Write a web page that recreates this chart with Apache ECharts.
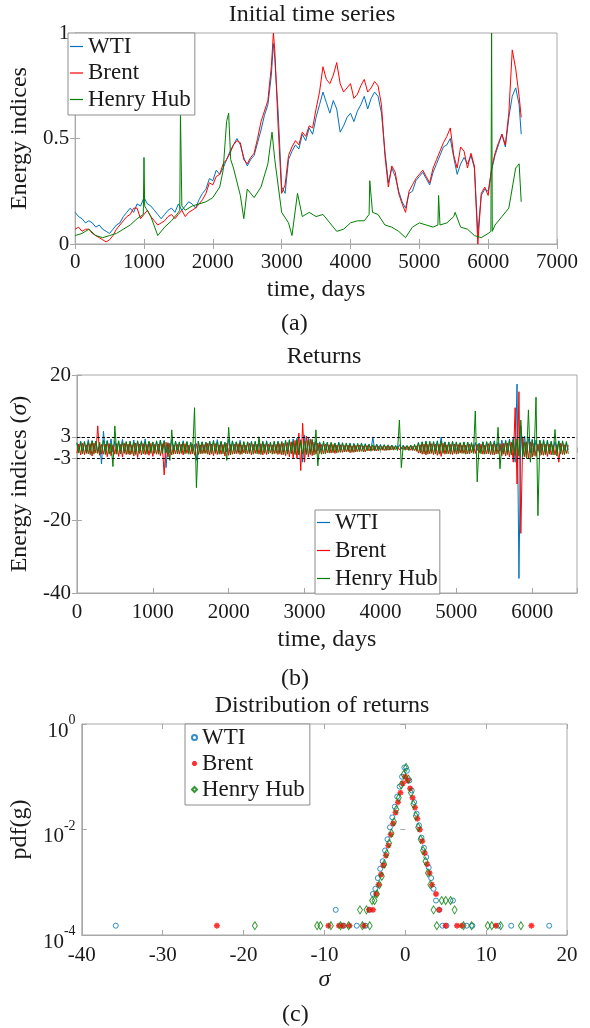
<!DOCTYPE html>
<html>
<head>
<meta charset="utf-8">
<script src="https://cdn.jsdelivr.net/npm/echarts@6/dist/echarts.min.js"></script>
<style>
  html, body { margin: 0; padding: 0; background: #fff; }
  #chart { width: 590px; height: 1028px; }
</style>
</head>
<body>
<div id="chart"></div>
<script>
// ---- panel (a): initial time series (normalised prices) ----
var daysA = [0, 50, 100, 150, 200, 250, 300, 350, 400, 450, 500, 550, 600, 650, 700, 750, 800, 850, 900, 950,
  1000, 1050, 1100, 1150, 1200, 1250, 1300, 1350, 1400, 1450, 1500, 1550, 1600, 1650, 1700, 1750, 1800, 1850, 1900, 1950,
  2000, 2050, 2100, 2150, 2200, 2250, 2300, 2350, 2400, 2450, 2500, 2550, 2600, 2650, 2700, 2750, 2800, 2850, 2880,
  2900, 2950, 3000, 3050, 3100, 3150, 3200, 3250, 3300, 3350, 3400, 3450, 3500, 3550, 3600, 3650, 3700, 3750, 3800, 3850,
  3900, 3950, 4000, 4050, 4100, 4150, 4200, 4250, 4300, 4350, 4400, 4450, 4500, 4550, 4600, 4650, 4700, 4750, 4800, 4850,
  4900, 4950, 5000, 5050, 5100, 5150, 5200, 5250, 5300, 5350, 5400, 5450, 5500, 5550, 5600, 5650, 5700, 5750, 5800, 5850,
  5900, 5950, 6000, 6050, 6100, 6150, 6200, 6250, 6300, 6350, 6400, 6450, 6480];
var wtiPrice = [0.15, 0.13, 0.12, 0.10, 0.11, 0.10, 0.08, 0.09, 0.07, 0.06, 0.05, 0.07, 0.09, 0.10, 0.13, 0.15, 0.17, 0.15, 0.19, 0.18,
  0.22, 0.19, 0.18, 0.16, 0.14, 0.12, 0.14, 0.16, 0.17, 0.15, 0.19, 0.16, 0.18, 0.20, 0.19, 0.17, 0.21, 0.24, 0.26, 0.31,
  0.30, 0.35, 0.33, 0.36, 0.40, 0.44, 0.47, 0.50, 0.47, 0.41, 0.37, 0.40, 0.42, 0.48, 0.54, 0.61, 0.66, 0.80, 0.95,
  0.88, 0.62, 0.27, 0.24, 0.40, 0.44, 0.47, 0.45, 0.52, 0.49, 0.55, 0.52, 0.60, 0.66, 0.72, 0.67, 0.62, 0.68, 0.64, 0.53,
  0.56, 0.60, 0.62, 0.58, 0.63, 0.66, 0.70, 0.64, 0.69, 0.72, 0.70, 0.62, 0.44, 0.29, 0.36, 0.32, 0.25, 0.20, 0.17, 0.24,
  0.25, 0.30, 0.32, 0.34, 0.31, 0.28, 0.34, 0.38, 0.42, 0.46, 0.47, 0.50, 0.41, 0.33, 0.38, 0.41, 0.38, 0.42, 0.36, 0.05,
  0.23, 0.26, 0.25, 0.35, 0.42, 0.47, 0.52, 0.46, 0.60, 0.70, 0.74, 0.66, 0.52];
var brentPrice = [0.07, 0.08, 0.06, 0.07, 0.07, 0.05, 0.04, 0.03, 0.02, 0.01, 0.02, 0.04, 0.07, 0.09, 0.11, 0.13, 0.14, 0.17, 0.17, 0.12,
  0.14, 0.16, 0.13, 0.11, 0.09, 0.10, 0.11, 0.13, 0.14, 0.12, 0.14, 0.16, 0.13, 0.15, 0.16, 0.17, 0.19, 0.21, 0.24, 0.29,
  0.28, 0.32, 0.33, 0.38, 0.40, 0.43, 0.47, 0.49, 0.48, 0.40, 0.38, 0.41, 0.43, 0.50, 0.58, 0.63, 0.68, 0.84, 1.00,
  0.92, 0.55, 0.24, 0.28, 0.42, 0.46, 0.49, 0.47, 0.53, 0.51, 0.56, 0.55, 0.64, 0.72, 0.84, 0.78, 0.76, 0.80, 0.86, 0.76,
  0.72, 0.74, 0.76, 0.69, 0.71, 0.75, 0.78, 0.72, 0.74, 0.77, 0.75, 0.66, 0.42, 0.27, 0.37, 0.34, 0.24, 0.19, 0.15, 0.25,
  0.28, 0.31, 0.33, 0.35, 0.32, 0.29, 0.36, 0.40, 0.44, 0.48, 0.51, 0.55, 0.42, 0.36, 0.46, 0.44, 0.36, 0.43, 0.37, 0.00,
  0.24, 0.27, 0.23, 0.36, 0.43, 0.48, 0.52, 0.47, 0.62, 0.92, 0.83, 0.70, 0.60];
var hhDays = [0, 100, 200, 300, 400, 500, 600, 700, 800, 900, 990, 1000, 1010, 1100, 1200, 1300, 1400, 1500, 1520, 1530,
  1550, 1600, 1700, 1800, 1900, 2000, 2100, 2150, 2200, 2230, 2260, 2300, 2400, 2450, 2500, 2600, 2700, 2800, 2860, 2900,
  3000, 3100, 3150, 3230, 3300, 3400, 3500, 3600, 3700, 3800, 3900, 4000, 4100, 4200, 4270, 4280, 4320, 4400, 4500, 4600,
  4700, 4800, 4900, 5000, 5100, 5200, 5270, 5280, 5300, 5400, 5500, 5520, 5600, 5700, 5800, 5900, 6000, 6040, 6050, 6060,
  6100, 6200, 6300, 6400, 6450, 6480];
var hhPrice = [0.04, 0.05, 0.07, 0.04, 0.03, 0.04, 0.05, 0.07, 0.09, 0.12, 0.14, 0.41, 0.18, 0.13, 0.04, 0.08, 0.11, 0.15, 0.16, 0.62,
  0.18, 0.16, 0.18, 0.19, 0.20, 0.22, 0.27, 0.35, 0.58, 0.62, 0.40, 0.36, 0.23, 0.12, 0.26, 0.22, 0.27, 0.38, 0.53, 0.40,
  0.15, 0.10, 0.04, 0.24, 0.13, 0.15, 0.13, 0.14, 0.10, 0.06, 0.07, 0.10, 0.11, 0.11, 0.14, 0.30, 0.15, 0.14, 0.09, 0.08,
  0.06, 0.03, 0.08, 0.10, 0.09, 0.08, 0.09, 0.23, 0.09, 0.10, 0.13, 0.15, 0.08, 0.07, 0.04, 0.03, 0.05, 0.06, 1.00, 0.06,
  0.09, 0.13, 0.17, 0.36, 0.38, 0.20];

// ---- panel (b): returns in units of sigma ----
var daysB = [0, 25, 50, 75, 100, 125, 150, 175, 200, 225, 250, 275, 300, 325, 350, 375, 400, 425, 450, 475,
  500, 525, 550, 575, 600, 625, 650, 675, 700, 725, 750, 775, 800, 825, 850, 875, 900, 925, 950, 975,
  1000, 1025, 1050, 1075, 1100, 1125, 1150, 1175, 1200, 1225, 1250, 1275, 1300, 1325, 1350, 1375, 1400, 1425, 1450, 1475,
  1500, 1525, 1550, 1575, 1600, 1625, 1650, 1675, 1700, 1725, 1750, 1775, 1800, 1825, 1850, 1875, 1900, 1925, 1950, 1975,
  2000, 2025, 2050, 2075, 2100, 2125, 2150, 2175, 2200, 2225, 2250, 2275, 2300, 2325, 2350, 2375, 2400, 2425, 2450, 2475,
  2500, 2525, 2550, 2575, 2600, 2625, 2650, 2675, 2700, 2725, 2750, 2775, 2800, 2825, 2850, 2875, 2900, 2925, 2950, 2975,
  3000, 3025, 3050, 3075, 3100, 3125, 3150, 3175, 3200, 3225, 3250, 3275, 3300, 3325, 3350, 3375, 3400, 3425, 3450, 3475,
  3500, 3525, 3550, 3575, 3600, 3625, 3650, 3675, 3700, 3725, 3750, 3775, 3800, 3825, 3850, 3875, 3900, 3925, 3950, 3975,
  4000, 4025, 4050, 4075, 4100, 4125, 4150, 4175, 4200, 4225, 4250, 4275, 4300, 4325, 4350, 4375, 4400, 4425, 4450, 4475,
  4500, 4525, 4550, 4575, 4600, 4625, 4650, 4675, 4700, 4725, 4750, 4775, 4800, 4825, 4850, 4875, 4900, 4925, 4950, 4975,
  5000, 5025, 5050, 5075, 5100, 5125, 5150, 5175, 5200, 5225, 5250, 5275, 5300, 5325, 5350, 5375, 5400, 5425, 5450, 5475,
  5500, 5525, 5550, 5575, 5600, 5625, 5650, 5675, 5700, 5725, 5750, 5775, 5800, 5825, 5850, 5875, 5900, 5925, 5950, 5975,
  6000, 6025, 6050, 6075, 6100, 6125, 6150, 6175, 6200, 6225, 6250, 6275, 6300, 6325, 6350, 6375, 6400, 6425, 6450, 6475];
var wtiRet = [1.2, -0.6, 1.8, -0.9, 1.6, -1.1, 2.2, -0.7, 1.9, -0.4, 1.7, -1.3, 0.9, -4.5, 4.5, -1.0, 2.0, -0.5, 2.4, -1.2,
  1.9, -0.8, 1.7, -0.9, 2.3, -1.0, 1.5, -0.7, 1.6, -0.6, 2.1, -1.2, 1.8, -0.9, 1.9, -0.5, 2.4, -1.1, 1.6, -0.8,
  1.5, -0.7, 1.8, -1.0, 2.1, -0.9, 2.0, -5.5, 1.4, -1.4, 2.2, -0.9, 1.7, -0.6, 1.4, -0.8, 1.9, -1.0, 1.6, -0.7,
  1.4, -0.9, 0.9, -3.5, 1.8, -0.8, 1.6, -1.0, 1.5, -0.6, 1.8, -0.7, 2.0, -1.1, 2.2, -0.8, 1.7, -0.9, 1.5, -1.2,
  2.3, -0.8, 1.9, -0.6, 1.6, -1.0, 2.0, -0.9, 1.4, -0.7, 1.6, -1.1, 1.8, -0.6, 1.5, -0.8, 1.3, -1.0, 1.7, -0.7,
  1.9, -0.9, 1.4, -0.8, 1.6, -0.7, 1.8, -1.0, 1.5, -1.2, 2.0, -1.1, 2.2, -1.3, 2.4, -1.5, 2.6, -1.8, 2.2, -4.0,
  3.5, -1.9, 2.8, -1.6, 2.1, -1.2, 1.9, -0.9, 1.6, -0.8, 1.4, -0.7, 1.5, -0.6, 1.3, -0.8, 1.2, -0.7, 1.5, -0.6,
  1.4, -0.5, 1.1, -0.6, 1.3, -0.7, 1.2, -0.5, 1.0, -0.6, 1.3, -0.4, 1.1, -0.5, 0.9, -0.6, 2.8, -0.8, 1.0, -0.4,
  0.9, -0.4, 0.8, -0.3, 0.8, -0.5, 0.7, -0.4, 0.6, -0.3, 0.8, -0.4, 0.7, -0.3, 0.5, -0.4, 0.6, -0.5, 0.7, -0.6,
  1.4, -0.7, 1.6, -0.9, 1.8, -0.8, 1.5, -1.0, 1.7, -0.9, 1.9, -0.8, 2.9, -1.1, 1.6, -0.7, 1.5, -0.9, 1.8, -1.0,
  1.6, -0.8, 1.3, -0.7, 1.4, -0.6, 1.5, -0.9, 1.2, -0.7, 1.4, -0.8, 1.3, -0.9, 1.6, -0.6, 1.5, -1.0, 1.7, -0.8,
  1.9, -0.9, 1.5, -1.0, 2.1, -1.1, 2.0, -1.2, 2.4, -1.4, 2.6, -4.0, 17.5, -36.0, 6.0, -2.0, 3.2, -1.9, 2.5, -1.4,
  2.3, -1.2, 2.1, -1.0, 1.9, -0.9, 2.2, -1.1, 2.0, -1.0, 1.8, -0.8, 1.7, -0.9, 1.9, -1.0, 1.6, -0.7, 1.4, -0.6];
var brentRet = [-1.5, 1.0, -2.0, 1.2, -1.9, 0.8, -1.7, 1.1, -2.3, 1.3, -1.5, 6.0, -2.1, 0.9, -1.8, 1.0, -2.5, 1.1, -2.2, 0.8,
  -1.8, 1.1, -2.4, 0.9, -2.6, 1.2, -1.9, 1.0, -2.0, 0.8, -2.3, 1.3, -2.7, 1.0, -2.0, 1.1, -1.9, 0.9, -2.1, 1.2,
  -2.4, 0.9, -1.8, 1.0, -2.2, 1.1, -7.5, 1.5, -2.6, 1.2, -2.0, 0.8, -1.7, 0.9, -1.8, 1.0, -2.0, 1.1, -1.6, 0.7,
  -1.8, 1.0, -2.1, 1.1, -1.9, 0.8, -1.7, 0.9, -1.6, 1.2, -2.0, 1.0, -2.2, 1.1, -1.9, 0.8, -1.8, 0.9, -2.3, 1.2,
  -2.1, 0.9, -1.8, 1.0, -1.7, 1.1, -1.9, 0.8, -1.5, 0.7, -1.7, 1.2, -2.0, 0.9, -1.6, 1.0, -1.8, 1.1, -2.0, 0.9,
  -1.9, 1.0, -1.5, 0.8, -1.7, 0.9, -1.9, 1.1, -2.0, 1.2, -2.2, 1.4, -2.5, 1.6, -2.8, 2.0, -3.0, 4.0, -6.3, 6.7,
  -4.0, 3.2, -2.6, 2.4, -2.2, 1.5, -1.8, 1.3, -1.6, 0.9, -1.7, 1.0, -1.4, 0.8, -1.5, 0.9, -1.6, 0.7, -1.3, 0.8,
  -1.3, 0.6, -1.2, 0.7, -1.4, 0.5, -1.3, 0.6, -1.1, 0.7, -1.0, 0.5, -1.2, 0.6, -0.9, 0.4, -0.8, 0.5, -0.9, 0.4,
  -0.7, 0.3, -0.8, 0.4, -0.7, 0.4, -0.6, 0.3, -0.5, 0.3, -0.6, 0.2, -0.5, 0.3, -0.6, 0.3, -0.7, 0.4, -0.8, 0.5,
  -1.5, 0.8, -1.8, 1.0, -2.0, 0.9, -1.7, 1.1, -1.9, 1.0, -2.1, 0.9, -2.4, 1.2, -1.8, 0.8, -1.7, 0.9, -1.9, 1.0,
  -1.8, 0.9, -1.5, 0.8, -1.6, 0.7, -1.7, 1.0, -1.4, 0.8, -1.6, 0.9, -1.5, 1.0, -1.8, 0.7, -1.7, 1.1, -1.9, 0.9,
  -2.0, 1.0, -1.7, 1.1, -2.2, 1.2, -2.3, 1.3, -2.6, 1.5, -4.0, 11.0, -10.0, 15.4, -23.6, 3.0, -2.5, 1.6, -3.0, 1.6,
  -2.6, 1.2, -2.4, 1.0, -2.2, 1.1, -2.1, 0.9, -2.4, 1.0, -2.0, 0.8, -2.0, 0.9, -4.0, 1.2, -1.9, 0.8, -1.6, 0.7];
var hhRet = [1.4, -1.5, 1.5, -1.7, 1.7, -1.6, 1.6, -1.9, 1.9, -1.8, 1.8, -1.6, 1.5, -1.7, 2.0, -1.9, 1.8, -1.8, 1.2, -5.2,
  6.0, -1.8, 1.9, -1.7, 1.6, -1.6, 1.7, -1.8, 1.8, -1.7, 1.5, -1.9, 1.9, -1.6, 1.6, -1.7, 1.7, -1.8, 1.8, -1.6,
  1.6, -1.6, 1.9, -1.8, 2.0, -1.7, 1.7, -1.5, 1.2, -3.5, 4.9, -1.8, 1.8, -1.7, 1.6, -1.6, 1.5, -1.7, 1.7, -1.8,
  1.5, -1.7, 11.0, -11.0, 1.8, -1.7, 1.6, -1.6, 1.5, -1.8, 1.7, -1.7, 1.9, -1.6, 1.6, -1.8, 1.7, -1.7, 1.4, -3.5,
  5.6, -2.0, 1.8, -1.7, 1.6, -1.6, 1.5, -1.8, 1.7, -1.7, 1.6, -1.6, 1.5, -1.8, 1.8, -1.7, 3.0, -1.9, 1.7, -1.6,
  1.6, -1.7, 1.5, -1.8, 1.8, -1.6, 1.6, -1.7, 1.7, -1.9, 1.9, -1.8, 2.0, -1.7, 1.8, -1.9, 2.2, -2.0, 2.0, -1.8,
  1.9, -1.8, 2.1, -1.9, 2.3, -2.0, 4.9, -5.0, 1.2, -1.8, 1.8, -1.7, 1.4, -1.5, 1.5, -1.4, 1.3, -1.5, 1.4, -1.3,
  1.2, -1.2, 1.3, -1.1, 1.1, -1.3, 1.0, -1.2, 1.2, -1.1, 1.1, -1.2, 0.9, -0.9, 1.0, -1.0, 0.8, -0.9, 0.9, -0.9,
  0.7, -0.7, 0.8, -0.8, 0.6, -0.7, 0.7, -0.7, 0.5, -0.8, 7.6, -5.5, 0.5, -0.7, 0.6, -0.8, 0.7, -0.8, 0.9, -1.0,
  1.4, -1.5, 1.6, -1.7, 1.7, -1.8, 1.8, -1.6, 1.6, -1.7, 1.7, -1.8, 1.9, -1.6, 1.5, -1.7, 1.6, -1.8, 1.7, -1.6,
  1.5, -1.7, 1.4, -1.6, 1.6, -1.8, 1.5, -1.7, 1.4, -1.6, 10.1, -9.4, 1.0, -1.7, 1.6, -1.8, 1.7, -1.7, 1.8, -1.9,
  1.6, -1.7, 5.6, -5.8, 1.0, -1.8, 1.9, -1.9, 2.0, -2.0, 2.2, -2.1, 2.4, -2.3, 7.6, -2.5, 1.5, -3.0, 10.4, -4.0,
  2.0, -2.2, 13.9, -18.7, 2.1, -2.0, 1.9, -1.9, 2.0, -1.8, 1.6, -2.0, 5.0, -2.3, 1.8, -1.8, 1.9, -1.9, 1.7, -1.7];
var bandLevels = [3, -3];
var retTicks = [-40, -20, -3, 3, 20];

// ---- panel (c): distribution of returns ----
var wtiSigma = [-35.8, -8.6, -7.6, -6.0, -4.9, -4.4, -4.0, -3.7, -3.4, -3.1, -2.8, -2.5, -2.2, -1.9, -1.6, -1.3, -1.0, -0.7, -0.4, -0.1,
  0.2, 0.5, 0.8, 1.1, 1.4, 1.7, 2.0, 2.3, 2.6, 2.9, 3.2, 3.5, 3.8, 4.2, 4.6, 5.1, 5.9, 7.6, 8.3, 11.5, 13.1, 17.8];
var wtiPdf = [1.5e-4, 3e-4, 1.5e-4, 1.5e-4, 1.5e-4, 3e-4, 6e-4, 7.5e-4, 1.2e-3, 1.8e-3, 2.5e-3, 4e-3, 6.5e-3, 0.011, 0.017, 0.027, 0.042, 0.065, 0.10, 0.15,
  0.13, 0.085, 0.055, 0.033, 0.02, 0.012, 7e-3, 4.5e-3, 3e-3, 1.9e-3, 1.2e-3, 7.5e-4, 4.5e-4, 3e-4, 1.5e-4, 1.5e-4, 4.5e-4, 1.5e-4, 1.5e-4, 1.5e-4, 1.5e-4, 1.5e-4];
var brentSigma = [-23.3, -9.5, -8.2, -7.7, -6.9, -5.1, -4.5, -4.0, -3.6, -3.3, -3.0, -2.7, -2.4, -2.1, -1.8, -1.5, -1.2, -0.9, -0.6, -0.3,
  0.0, 0.3, 0.6, 0.9, 1.2, 1.5, 1.8, 2.1, 2.4, 2.7, 3.0, 3.3, 3.8, 4.2, 5.0, 6.4, 7.0, 11.2, 15.6];
var brentPdf = [1.5e-4, 1.5e-4, 1.5e-4, 1.5e-4, 1.5e-4, 1.5e-4, 3e-4, 3e-4, 6e-4, 9e-4, 1.4e-3, 2.1e-3, 3.2e-3, 5e-3, 8e-3, 0.013, 0.021, 0.033, 0.05, 0.075,
  0.10, 0.085, 0.06, 0.04, 0.026, 0.016, 0.01, 6e-3, 3.6e-3, 2.2e-3, 1.5e-3, 9e-4, 6e-4, 3e-4, 1.5e-4, 1.5e-4, 1.5e-4, 1.5e-4, 1.5e-4];
var hhSigma = [-18.6, -10.9, -10.5, -9.2, -8.0, -7.0, -5.6, -5.3, -4.8, -4.4, -4.1, -3.8, -3.5, -3.2, -2.9, -2.6, -2.3, -2.0, -1.7, -1.4,
  -1.1, -0.8, -0.5, -0.2, 0.1, 0.4, 0.7, 1.0, 1.3, 1.6, 1.9, 2.2, 2.5, 2.8, 3.1, 3.5, 3.9, 4.5, 5.0, 5.6,
  6.1, 7.2, 8.2, 10.2, 10.7, 11.8, 14.3];
var hhPdf = [1.5e-4, 1.5e-4, 1.5e-4, 1.5e-4, 1.5e-4, 1.5e-4, 3e-4, 1.5e-4, 3e-4, 1.5e-4, 4.5e-4, 4.5e-4, 6e-4, 9e-4, 1.3e-3, 2.2e-3, 3.5e-3, 5.5e-3, 8.5e-3, 0.014,
  0.024, 0.04, 0.07, 0.11, 0.15, 0.09, 0.05, 0.03, 0.018, 0.011, 6.5e-3, 4e-3, 2.5e-3, 1.5e-3, 9e-4, 3e-4, 1.5e-4, 4.5e-4, 4.5e-4, 4.5e-4,
  3e-4, 1.5e-4, 1.5e-4, 1.5e-4, 1.5e-4, 1.5e-4, 1.5e-4];
var pdfTicks = [1e-4, 1e-2, 1];

var FONT = "'Liberation Serif', 'Times New Roman', serif";
var TXT = '#1a1a1a';
var AXIS = '#a8a8a8';
var BLUE = '#0072BD';
var RED = '#ff0000';
var GREEN = '#008000';
var ASTERISK = 'path://M0,5L10,5M5,0L5,10M1.5,1.5L8.5,8.5M1.5,8.5L8.5,1.5';

function zip(xs, ys) {
  return xs.map(function (x, i) { return [x, ys[i]]; });
}

function baseAxis(gridIndex, extra) {
  var ax = {
    gridIndex: gridIndex,
    axisLine: { show: true, onZero: false, lineStyle: { color: AXIS, width: 1 } },
    axisTick: { show: true, inside: true, length: 5, lineStyle: { color: AXIS } },
    splitLine: { show: false },
    axisLabel: { fontFamily: FONT, fontSize: 21, fontWeight: 'normal', color: TXT },
    nameTextStyle: { fontFamily: FONT, fontSize: 24, fontWeight: 'normal', color: TXT }
  };
  for (var k in extra) {
    if (typeof extra[k] === 'object' && !Array.isArray(extra[k]) && ax[k]) {
      ax[k] = Object.assign({}, ax[k], extra[k]);
    } else {
      ax[k] = extra[k];
    }
  }
  return ax;
}

function mirror(gridIndex, extra) {
  var m = baseAxis(gridIndex, extra);
  m.axisLine = { show: false };
  m.axisLabel = Object.assign({}, m.axisLabel, { show: false });
  m.name = '';
  return m;
}

function legendBox(names, left, top, gap, padding, iw, ih, icon) {
  var lg = {
    data: names,
    left: left, top: top,
    orient: 'vertical',
    itemWidth: iw, itemHeight: ih, itemGap: gap,
    padding: padding,
    borderColor: '#8c8c8c', borderWidth: 1,
    backgroundColor: '#fff',
    selectedMode: false,
    formatter: function (n) { return n.split('#')[0]; },
    textStyle: { fontFamily: FONT, fontSize: 23, fontWeight: 'normal', lineHeight: 23, color: TXT }
  };
  if (icon) lg.icon = icon;
  return lg;
}

function lineSeries(name, xi, data, color) {
  return {
    name: name, type: 'line', xAxisIndex: xi, yAxisIndex: xi,
    data: data, symbol: 'none', showSymbol: false, animation: false,
    lineStyle: { width: 1, color: color }, itemStyle: { color: color }
  };
}

var chart = echarts.init(document.getElementById('chart'), null, { renderer: 'canvas' });

var titleStyle = { fontFamily: FONT, fontSize: 24, fontWeight: 'normal', color: TXT };
var capFont = "24px 'Liberation Serif', serif";

var option = {
  backgroundColor: '#fff',
  animation: false,
  textStyle: { fontFamily: FONT, fontWeight: 'normal' },
  title: [
    { text: 'Initial time series', left: 312, top: 3, textAlign: 'center', padding: 0, textStyle: titleStyle },
    { text: 'Returns', left: 324, top: 345, textAlign: 'center', padding: 0, textStyle: titleStyle },
    { text: 'Distribution of returns', left: 322, top: 694, textAlign: 'center', padding: 0, textStyle: titleStyle }
  ],
  graphic: [
    { type: 'text', left: 281, top: 312, style: { text: '(a)', font: capFont, fill: TXT } },
    { type: 'text', left: 281, top: 667, style: { text: '(b)', font: capFont, fill: TXT } },
    { type: 'text', left: 282, top: 1003, style: { text: '(c)', font: capFont, fill: TXT } }
  ],
  grid: [
    { left: 68, top: 33, width: 489, height: 211, show: true, borderColor: AXIS, borderWidth: 1, backgroundColor: '#fff' },
    { left: 72, top: 375, width: 505, height: 218, show: true, borderColor: AXIS, borderWidth: 1, backgroundColor: '#fff' },
    { left: 78, top: 724, width: 489, height: 211, show: true, borderColor: AXIS, borderWidth: 1, backgroundColor: '#fff' }
  ],
  legend: [
    legendBox(['WTI', 'Brent', 'Henry Hub'], 68, 33, 3.5, [2, 4, 4, 2], 13, 1.2, 'rect'),
    legendBox(['WTI#b', 'Brent#b', 'Henry Hub#b'], 315, 510, 5, [1, 2, 4, 2], 13, 1.2, 'rect'),
    legendBox(['WTI#c', 'Brent#c', 'Henry Hub#c'], 185, 724, 3, [2, 5, 4, 6], 5, 5)
  ],
  xAxis: [
    baseAxis(0, { type: 'value', min: 0, max: 7000, interval: 1000, name: 'time, days', nameLocation: 'middle', nameGap: 34,
      axisLabel: { margin: 8, formatter: function (v) { return String(v); } } }),
    baseAxis(1, { type: 'value', min: 0, max: 6590, interval: 1000, name: 'time, days', nameLocation: 'middle', nameGap: 35,
      axisLabel: { margin: 9, formatter: function (v) { return v % 1000 === 0 ? String(v) : ''; } } }),
    baseAxis(2, { type: 'value', min: -40, max: 20, interval: 10, name: 'σ', nameLocation: 'middle', nameGap: 33,
      nameTextStyle: { fontStyle: 'italic' }, axisLabel: { margin: 10, formatter: function (v) { return String(v); } } }),
    mirror(0, { type: 'value', position: 'top', min: 0, max: 7000, interval: 1000 }),
    mirror(1, { type: 'value', position: 'top', min: 0, max: 6590, interval: 1000 }),
    mirror(2, { type: 'value', position: 'top', min: -40, max: 20, interval: 10 })
  ],
  yAxis: [
    baseAxis(0, { type: 'value', min: 0, max: 1, interval: 0.5, name: 'Energy indices', nameLocation: 'middle', nameGap: 35,
      axisLabel: { margin: 6, formatter: function (v) { return String(v); } } }),
    baseAxis(1, { type: 'value', min: -40, max: 20, name: '{n|Energy indices (}{i|σ}{n|)}', nameLocation: 'middle', nameGap: 39,
      nameTextStyle: { rich: {
        n: { fontFamily: FONT, fontSize: 24, fontWeight: 'normal', color: TXT },
        i: { fontFamily: FONT, fontSize: 24, fontWeight: 'normal', fontStyle: 'italic', color: TXT } } },
      axisLabel: { margin: 6, customValues: retTicks, formatter: function (v) { return String(v); } },
      axisTick: { customValues: retTicks } }),
    baseAxis(2, { type: 'log', logBase: 10, min: 1e-4, max: 1, name: 'pdf(g)', nameLocation: 'middle', nameGap: 39,
      axisLabel: {
        margin: 6, customValues: pdfTicks, padding: [7, 0, 0, 0],
        formatter: function (v) { return '{b|10}{s|' + Math.round(Math.log10(v)) + '}{h| }'; },
        rich: {
          b: { fontFamily: FONT, fontSize: 21, color: TXT, verticalAlign: 'bottom' },
          s: { fontFamily: FONT, fontSize: 14, color: TXT, verticalAlign: 'top' },
          h: { fontSize: 1, lineHeight: 28 }
        }
      },
      axisTick: { customValues: pdfTicks } }),
    mirror(0, { type: 'value', position: 'right', min: 0, max: 1, interval: 0.5 }),
    mirror(1, { type: 'value', position: 'right', min: -40, max: 20, axisTick: { customValues: retTicks }, axisLabel: { customValues: retTicks } }),
    mirror(2, { type: 'log', logBase: 10, position: 'right', min: 1e-4, max: 1, axisTick: { customValues: pdfTicks }, axisLabel: { customValues: pdfTicks } })
  ],
  series: [
    lineSeries('WTI', 0, zip(daysA, wtiPrice), BLUE),
    lineSeries('Brent', 0, zip(daysA, brentPrice), RED),
    lineSeries('Henry Hub', 0, zip(hhDays, hhPrice), GREEN),

    lineSeries('WTI#b', 1, zip(daysB, wtiRet), BLUE),
    lineSeries('Brent#b', 1, zip(daysB, brentRet), RED),
    Object.assign(lineSeries('Henry Hub#b', 1, zip(daysB, hhRet), GREEN), {
      markLine: {
        silent: true, symbol: 'none', animation: false,
        label: { show: false },
        lineStyle: { color: '#000', width: 1, type: [3, 2] },
        data: bandLevels.map(function (v) { return { yAxis: v }; })
      }
    }),

    {
      name: 'WTI#c', type: 'scatter', xAxisIndex: 2, yAxisIndex: 2,
      data: zip(wtiSigma, wtiPdf), symbol: 'circle', symbolSize: 5,
      itemStyle: { color: 'rgba(0,0,0,0)', borderColor: BLUE, borderWidth: 1 }
    },
    {
      name: 'Brent#c', type: 'scatter', xAxisIndex: 2, yAxisIndex: 2,
      data: zip(brentSigma, brentPdf), symbol: ASTERISK, symbolSize: 6,
      itemStyle: { color: RED, borderColor: RED, borderWidth: 1.5 }
    },
    {
      name: 'Henry Hub#c', type: 'scatter', xAxisIndex: 2, yAxisIndex: 2,
      data: zip(hhSigma, hhPdf), symbol: 'diamond', symbolSize: [5, 8],
      itemStyle: { color: 'rgba(0,0,0,0)', borderColor: GREEN, borderWidth: 1 }
    }
  ]
};

chart.setOption(option);
</script>
</body>
</html>
